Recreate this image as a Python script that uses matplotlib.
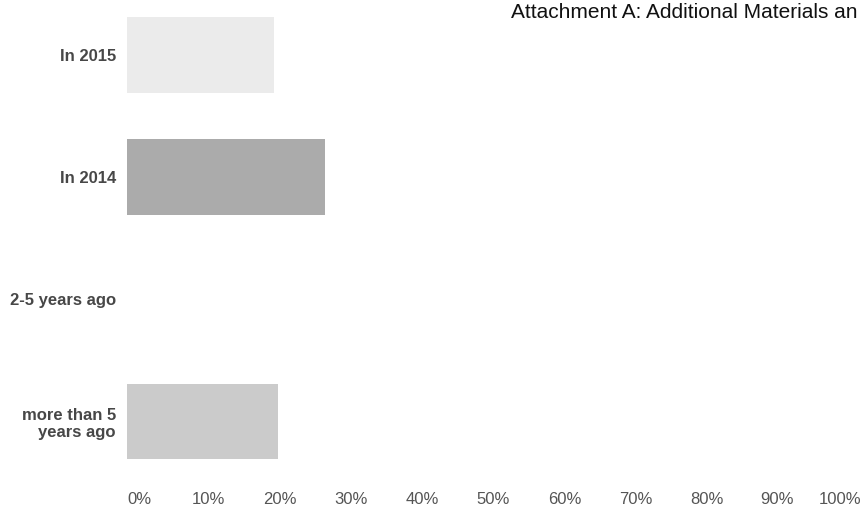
import matplotlib
matplotlib.use("Agg")
import matplotlib.pyplot as plt
import matplotlib.transforms as mtransforms

plt.rcParams['font.family'] = ['Liberation Sans', 'DejaVu Sans']

# data
categories = ['In 2015', 'In 2014', '2-5 years ago', 'more than 5\nyears ago']
values = [20.6, 27.8, 0.0, 21.2]
bar_colors = ['#ebebeb', '#ababab', '#d6d6d6', '#cbcbcb']
xticks = [0, 10, 20, 30, 40, 50, 60, 70, 80, 90, 100]
xticklabels = [f'{t}%' for t in xticks]

fig = plt.figure(figsize=(8.64, 5.19), dpi=100)
ax = fig.add_axes([127 / 864, 41 / 519, (840 - 127) / 864, 478 / 519])

ypos = list(range(len(categories)))
ax.barh(ypos, values, height=0.62, color=bar_colors, edgecolor='none')

ax.set_xlim(0, 100)
ax.set_ylim(3.463, -0.451)
ax.set_yticks(ypos)
ax.set_yticklabels(categories, fontsize=12, fontweight='bold', color='#474747')
ax.set_xticks(xticks)
ax.set_xticklabels(xticklabels, fontsize=12, color='#555555')
ax.tick_params(axis='both', length=0)
ax.tick_params(axis='y', pad=8)
ax.tick_params(axis='x', pad=10)

# the scanned labels sit a little right of their ticks (except the last one)
shifts = [12, 10, 10, 10, 10, 10, 10, 10, 10, 8, 0]
for lbl, dx in zip(ax.get_xticklabels(), shifts):
    off = mtransforms.ScaledTranslation(dx / 100, 0, fig.dpi_scale_trans)
    lbl.set_transform(lbl.get_transform() + off)

for s in ax.spines.values():
    s.set_visible(False)

fig.text(511 / 864, 1 - 3 / 519, 'Attachment A: Additional Materials an',
         fontsize=15, color='#111111', ha='left', va='top')

fig.savefig('out.png', dpi=100)
